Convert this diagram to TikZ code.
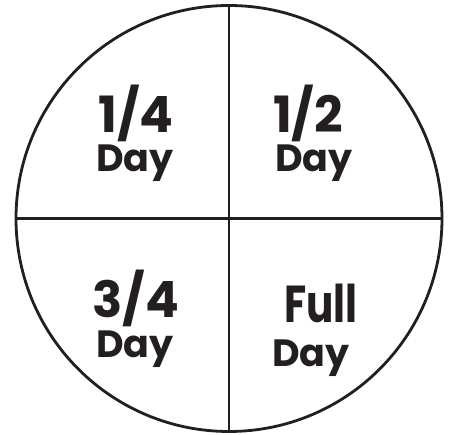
\documentclass[tikz,border=0pt]{standalone}
\usepackage{fontspec}
\setmainfont{Poppins}
\usepackage{xcolor}
\usepackage{tikz}
\usetikzlibrary{positioning}

\definecolor{ink}{HTML}{231F20}

\begin{document}
\begin{tikzpicture}[
    x=1pt, y=-1pt,
    dial/.style={draw=ink, circle, line width=2.8pt, minimum size=426pt, inner sep=0pt},
    split/.style={draw=ink, line width=2.4pt},
    frac/.style={text=ink, anchor=base, inner sep=0pt, font=\fontsize{50}{50}\selectfont\bfseries},
    narrow/.style={frac, font=\fontsize{52}{52}\selectfont\bfseries\addfontfeature{FakeStretch=0.78}},
    word/.style={text=ink, anchor=base, inner sep=0pt, font=\fontsize{38}{38}\selectfont\bfseries}
]
\useasboundingbox (0,0) rectangle (456,435);

% the dial and its two cuts
\node[dial] (clock) at (229,218.5) {};
\draw[split] (clock.north) -- (clock.south);
\draw[split] (clock.west) -- (clock.east);

% top left
\node[frac] (quarter) at (136,133) {1/4};
\node[word] (quarterday) at (135,172) {Day};

% top right
\node[frac] (half) at (308,133) {1/2};
\node[word] (halfday) at (314,172) {Day};

% bottom left
\node[frac] (threeq) at (136,318) {3/4};
\node[word] (threeqday) at (135,358) {Day};

% bottom right
\node[narrow] (full) at (321,323) {Full};
\node[word] (fullday) at (311,367) {Day};

\end{tikzpicture}
\end{document}
